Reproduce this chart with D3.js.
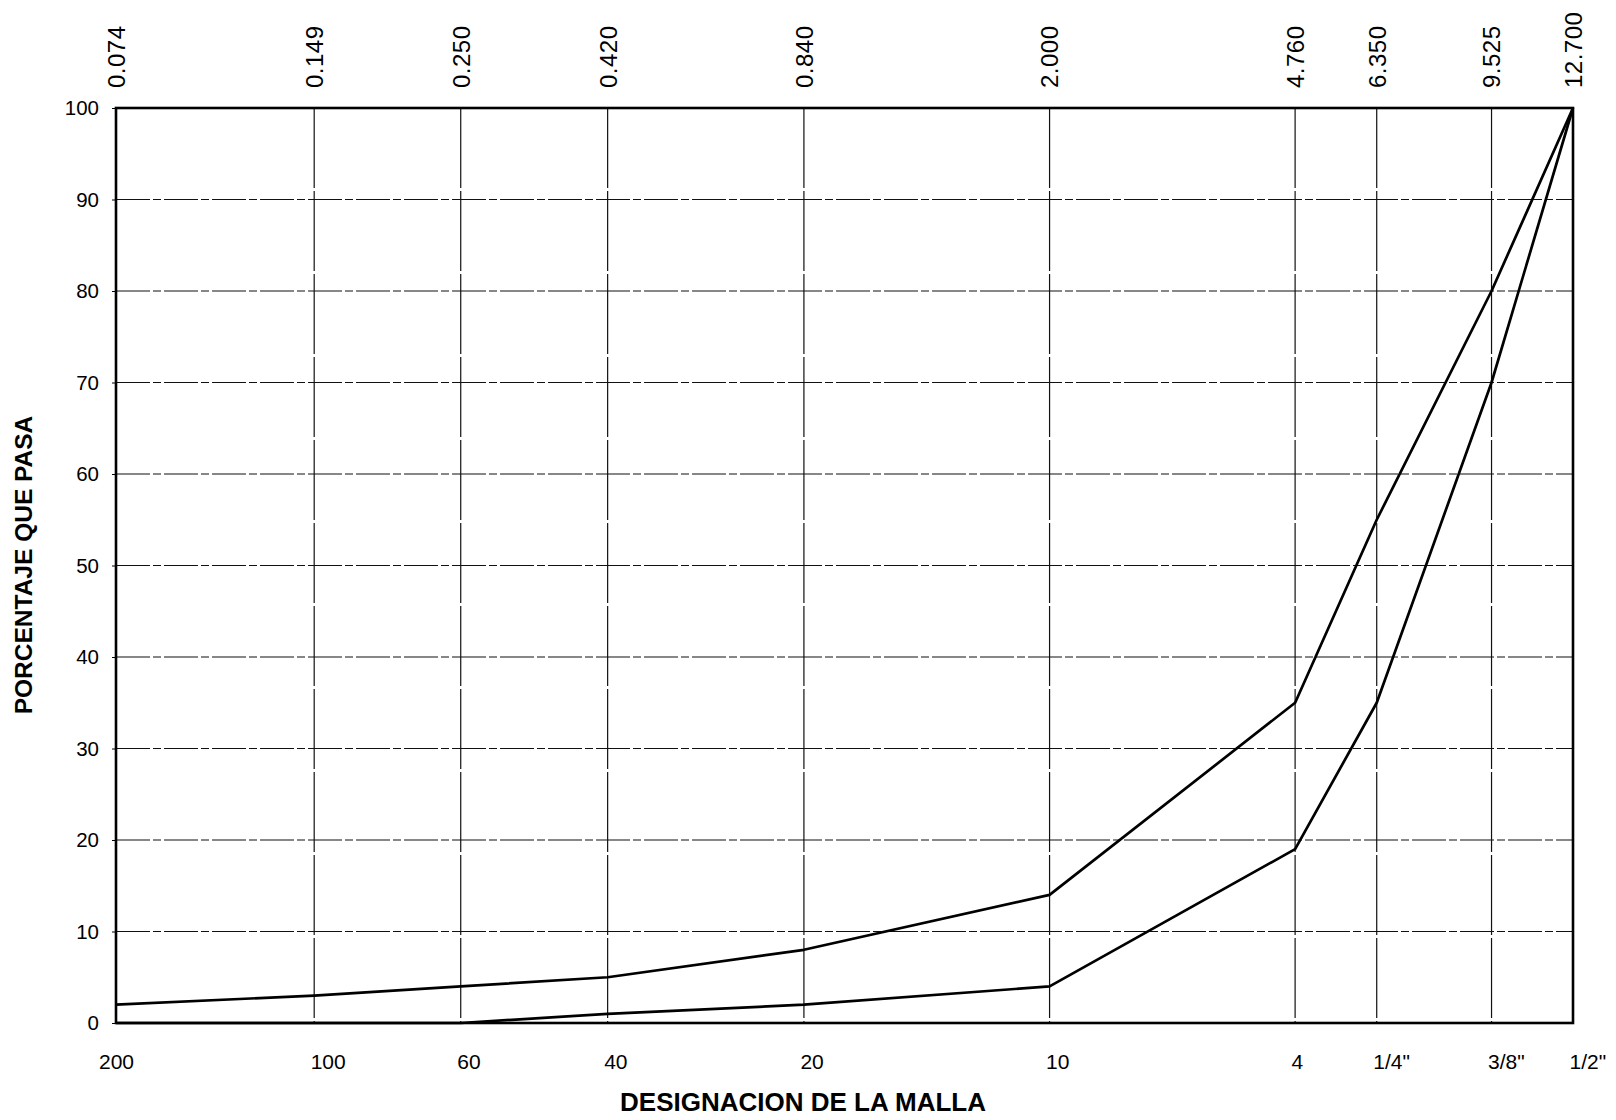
<!DOCTYPE html>
<html>
<head>
<meta charset="utf-8">
<script src="https://cdn.jsdelivr.net/npm/d3@7"></script>
<style>
  html, body { margin: 0; padding: 0; background: #fff; }
  svg { display: block; }
  text { font-family: "Liberation Sans", Arial, sans-serif; fill: #000; }
</style>
</head>
<body>
<svg id="chart" width="1616" height="1120"></svg>
<script>
// Sieve openings (mm), with the matching mesh designation
const sieveSizes   = [0.074, 0.149, 0.250, 0.420, 0.840, 2.000, 4.760, 6.350, 9.525, 12.700];
const sizeLabels   = ["0.074", "0.149", "0.250", "0.420", "0.840", "2.000", "4.760", "6.350", "9.525", "12.700"];
const meshLabels   = ["200", "100", "60", "40", "20", "10", "4", "1/4\"", "3/8\"", "1/2\""];

// Grading envelope: percent passing at each sieve
const upperPassing = [2, 3, 4, 5, 8, 14, 35, 55, 80, 100];
const lowerPassing = [0, 0, 0, 1, 2, 4, 19, 35, 70, 100];

const percentTicks = [0, 10, 20, 30, 40, 50, 60, 70, 80, 90, 100];

const svg = d3.select("#chart");
const plot = { left: 116, right: 1573, top: 108, bottom: 1023 };

const x = d3.scaleLog()
  .domain([sieveSizes[0], sieveSizes[sieveSizes.length - 1]])
  .range([plot.left, plot.right]);
const y = d3.scaleLinear()
  .domain([0, 100])
  .range([plot.bottom, plot.top]);

// Horizontal grid (dashed)
svg.append("g")
  .selectAll("line")
  .data(percentTicks.filter(d => d > 0 && d < 100))
  .join("line")
  .attr("x1", plot.left).attr("x2", plot.right)
  .attr("y1", d => y(d)).attr("y2", d => y(d))
  .attr("stroke", "#111")
  .attr("stroke-width", 1.2)
  .attr("stroke-dasharray", "34,3,8,3");

// Vertical grid at every sieve
svg.append("g")
  .selectAll("line")
  .data(sieveSizes.slice(1, -1))
  .join("line")
  .attr("x1", d => x(d)).attr("x2", d => x(d))
  .attr("y1", plot.top).attr("y2", plot.bottom)
  .attr("stroke", "#111")
  .attr("stroke-width", 1.2)
  .attr("stroke-dasharray", "80,3");

// Plot frame
svg.append("rect")
  .attr("x", plot.left).attr("y", plot.top)
  .attr("width", plot.right - plot.left)
  .attr("height", plot.bottom - plot.top)
  .attr("fill", "none")
  .attr("stroke", "#000")
  .attr("stroke-width", 2.6);

// Left axis: percent passing
const yAxis = svg.append("g")
  .attr("transform", `translate(${plot.left},0)`)
  .call(d3.axisLeft(y).tickValues(percentTicks).tickSize(4).tickPadding(13));
yAxis.select(".domain").remove();
yAxis.selectAll("line").attr("stroke", "#000");
yAxis.selectAll("text").style("font-size", "20.5px").attr("fill", "#000");

// Bottom axis: mesh designation
const xAxis = svg.append("g")
  .attr("transform", `translate(0,${plot.bottom})`)
  .call(d3.axisBottom(x).tickValues(sieveSizes).tickSize(0).tickPadding(31)
    .tickFormat((d, i) => meshLabels[i]));
xAxis.select(".domain").remove();
xAxis.selectAll("text")
  .style("font-size", "21px")
  .attr("fill", "#000")
  .attr("text-anchor", (d, i) => i === 0 ? "middle" : "start")
  .attr("dx", (d, i) => i === 0 ? 0 : -4);

// Top axis: sieve opening in mm, rotated
const topAxis = svg.append("g")
  .attr("transform", `translate(0,${plot.top})`)
  .call(d3.axisTop(x).tickValues(sieveSizes).tickSize(0).tickFormat((d, i) => sizeLabels[i]));
topAxis.select(".domain").remove();
topAxis.selectAll("text")
  .style("font-size", "24px")
  .style("letter-spacing", "0.5px")
  .attr("fill", "#000")
  .attr("text-anchor", "start")
  .attr("transform", "rotate(-90)")
  .attr("x", 20)
  .attr("y", 0)
  .attr("dy", "0.35em");

// Grading curves
const line = d3.line()
  .x((d, i) => x(sieveSizes[i]))
  .y(d => y(d));

[upperPassing, lowerPassing].forEach(series => {
  svg.append("path")
    .datum(series)
    .attr("d", line)
    .attr("fill", "none")
    .attr("stroke", "#000")
    .attr("stroke-width", 2.7)
    .attr("stroke-linejoin", "round");
});

// Axis titles
svg.append("text")
  .attr("x", 803).attr("y", 1111)
  .attr("text-anchor", "middle")
  .style("font-size", "26px")
  .style("font-weight", "bold")
  .text("DESIGNACION DE LA MALLA");

svg.append("text")
  .attr("transform", "translate(32,565) rotate(-90)")
  .attr("text-anchor", "middle")
  .style("font-size", "24.5px")
  .style("font-weight", "bold")
  .text("PORCENTAJE QUE PASA");
</script>
</body>
</html>
